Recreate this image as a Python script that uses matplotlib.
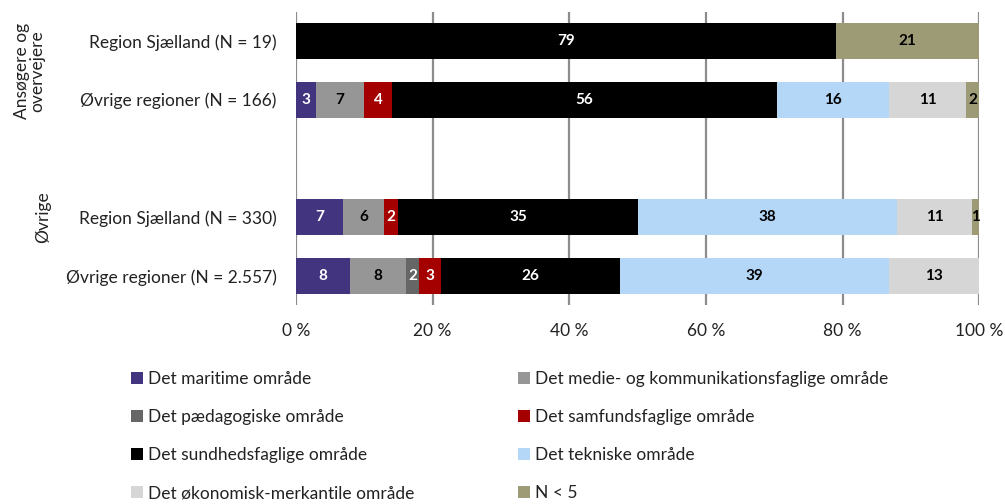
import matplotlib
matplotlib.use("Agg")
import matplotlib.pyplot as plt
import numpy as np
from matplotlib.patches import Patch

plt.rcParams['font.family'] = ['Lato', 'DejaVu Sans']

rows = ["Region Sjælland (N = 19)", "Øvrige regioner (N = 166)",
        "Region Sjælland (N = 330)", "Øvrige regioner (N = 2.557)"]
row_pos = [0, 1, 3, 4]
groups = ["Ansøgere og\novervejere", "Øvrige"]

series = ["Det maritime område", "Det medie- og kommunikationsfaglige område",
          "Det pædagogiske område", "Det samfundsfaglige område",
          "Det sundhedsfaglige område", "Det tekniske område",
          "Det økonomisk-merkantile område", "N < 5"]
maritime   = [0.0, 2.9, 6.9, 7.9]
medie      = [0.0, 7.1, 6.0, 8.15]
paedagog   = [0.0, 0.0, 0.0, 2.0]
samfund    = [0.0, 4.0, 2.0, 3.1]
sundhed    = [79.0, 56.4, 35.2, 26.2]
teknisk    = [0.0, 16.4, 37.9, 39.4]
oekonomisk = [0.0, 11.3, 11.0, 13.2]
n_under_5  = [21.0, 1.9, 1.0, 0.0]
values = [maritime, medie, paedagog, samfund, sundhed, teknisk, oekonomisk, n_under_5]

colors = ["#43347f", "#969696", "#666666", "#a50000", "#000000", "#b4d7f7", "#d6d6d6", "#9d9a76"]
text_colors = ["white", "black", "white", "white", "white", "black", "black", "black"]

fig = plt.figure(figsize=(10.05, 5.04), dpi=100)
ax = fig.add_axes([296/1005, 1-305/504, (979.3-296)/1005, (305-12)/504])

left = np.zeros(len(rows))
handles = []
for name, vals, col, tcol in zip(series, values, colors, text_colors):
    vals = np.array(vals)
    bars = ax.barh(row_pos, vals, left=left, height=0.61, color=col, zorder=3, label=name)
    for b, v, l in zip(bars, vals, left):
        if v > 0.5:
            ax.text(l + v/2, b.get_y() + b.get_height()/2, f"{v:.0f}",
                    ha="center", va="center", color=tcol, fontsize=11,
                    fontweight="bold", zorder=4)
    left += vals
    handles.append(Patch(facecolor=col, edgecolor='none', label=name))

ax.set_xlim(0, 100)
ax.set_ylim(4.49, -0.49)
ax.set_xticks([0, 20, 40, 60, 80, 100])
ax.set_xticklabels(["0 %", "20 %", "40 %", "60 %", "80 %", "100 %"], fontsize=12.5, color="#222222")
ax.set_yticks(row_pos)
ax.set_yticklabels(rows, fontsize=12.5, color="#222222")
ax.tick_params(axis='both', length=0)
ax.tick_params(axis='y', pad=14)
ax.tick_params(axis='x', pad=13)
for s in ax.spines.values():
    s.set_visible(False)
ax.grid(axis='x', color="#8c8c8c", linewidth=1.6, zorder=1)

fig.text(30/1005, 1-71/504, groups[0], rotation=90, ha="center", va="center",
         fontsize=12.5, color="#222222", linespacing=0.95)
fig.text(43/1005, 1-217/504, groups[1], rotation=90, ha="center", va="center",
         fontsize=12.5, color="#222222")

leg_kw = dict(frameon=False, fontsize=12.5, handlelength=0.7, handleheight=0.7,
              handletextpad=0.3, labelspacing=1.27, borderaxespad=0, borderpad=0,
              labelcolor="#222222")
col1 = [handles[i] for i in (0, 2, 4, 6)]
col2 = [handles[i] for i in (1, 3, 5, 7)]
l1 = fig.legend(handles=col1, loc="upper left", bbox_to_anchor=(131/1005, 1-371/504), **leg_kw)
l2 = fig.legend(handles=col2, loc="upper left", bbox_to_anchor=(518/1005, 1-371/504), **leg_kw)

fig.savefig("out.png", dpi=100)
